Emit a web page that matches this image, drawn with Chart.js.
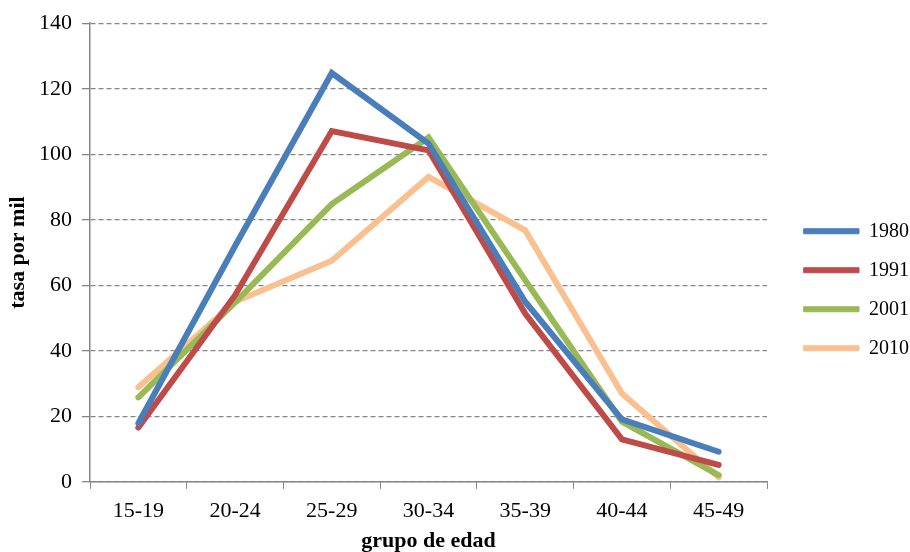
<!DOCTYPE html>
<html>
<head>
<meta charset="utf-8">
<script src="https://cdn.jsdelivr.net/npm/chart.js@4"></script>
<style>
  html, body { margin: 0; padding: 0; background: #fff; }
  #wrap { width: 910px; height: 552px; }
</style>
</head>
<body>
<div id="wrap"><canvas id="chart"></canvas></div>
<script>
const grupos = ["15-19", "20-24", "25-29", "30-34", "35-39", "40-44", "45-49"];
const tasa1980 = [17.9, 72, 124.8, 103.3, 55, 19.1, 9.2];
const tasa1991 = [16.6, 57, 107.1, 101.2, 51.4, 13, 5.2];
const tasa2001 = [25.8, 54.8, 84.8, 105.1, 61.6, 18.4, 2.1];
const tasa2010 = [28.9, 55, 67.5, 93.1, 76.8, 27, 1.4];

const FONT = "'Liberation Serif', 'Times New Roman', serif";
const AXIS_GRAY = "#868686";

function serie(label, data, color) {
  return {
    label: label,
    data: data,
    borderColor: color,
    backgroundColor: color,
    borderWidth: 6,
    pointRadius: 0,
    tension: 0,
    borderCapStyle: "round",
    fill: false,
  };
}

const ctx = document.getElementById("chart").getContext("2d");
new Chart(ctx, {
  type: "line",
  data: {
    labels: grupos,
    datasets: [
      serie("1980", tasa1980, "#4A7EBB"),
      serie("1991", tasa1991, "#BE4B48"),
      serie("2001", tasa2001, "#98B954"),
      serie("2010", tasa2010, "#FAC090"),
    ],
  },
  options: {
    responsive: true,
    maintainAspectRatio: false,
    animation: false,
    layout: { padding: { top: 11.5, left: 7, right: -9, bottom: 0 } },
    scales: {
      x: {
        offset: true,
        grid: {
          offset: true,
          drawOnChartArea: false,
          tickLength: 7,
          color: AXIS_GRAY,
        },
        border: { color: AXIS_GRAY, width: 1.5 },
        ticks: { color: "#000", padding: 9, font: { family: FONT, size: 22 } },
        title: {
          display: true,
          text: "grupo de edad",
          color: "#000",
          padding: { top: -2, bottom: 0 },
          font: { family: FONT, size: 22, weight: "bold", lineHeight: 0.94 },
        },
      },
      y: {
        min: 0,
        max: 140,
        ticks: { stepSize: 20, color: "#000", padding: 10, font: { family: FONT, size: 22 } },
        grid: {
          color: AXIS_GRAY,
          lineWidth: 1.3,
          tickLength: 8,
          tickBorderDash: [],
        },
        border: { color: AXIS_GRAY, width: 1.5, dash: [5, 3] },
        title: {
          display: true,
          text: "tasa por mil",
          color: "#000",
          padding: { top: 0, bottom: 0 },
          font: { family: FONT, size: 22, weight: "bold", lineHeight: 1 },
        },
      },
      hueco: {
        type: "linear",
        position: "right",
        display: true,
        grid: { display: false },
        border: { display: false },
        ticks: { display: false },
        afterFit: (scale) => { scale.width = 18; },
      },
    },
    plugins: {
      legend: {
        position: "right",
        align: "center",
        title: {
          display: true,
          text: "",
          padding: { top: 3, bottom: 3 },
          font: { size: 10, lineHeight: 1 },
        },
        labels: {
          boxWidth: 55,
          boxHeight: 5,
          padding: 19,
          color: "#000",
          font: { family: FONT, size: 20 },
          generateLabels: (chart) =>
            Chart.defaults.plugins.legend.labels.generateLabels(chart).map((item) => ({
              ...item,
              lineWidth: 1,
            })),
        },
      },
      tooltip: { enabled: false },
    },
  },
});
</script>
</body>
</html>
